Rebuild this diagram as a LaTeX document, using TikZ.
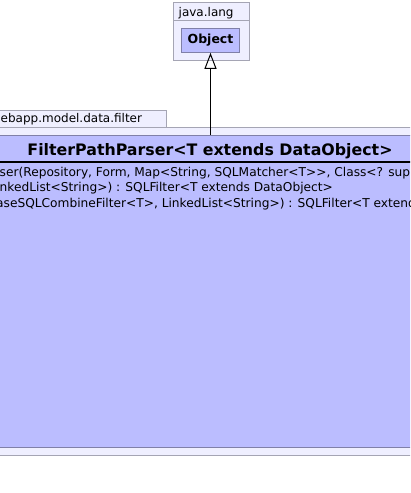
\documentclass[tikz,border=0pt]{standalone}
\usepackage{fontspec}
\setmainfont{DejaVu Sans}
\usepackage{tikz}
\usetikzlibrary{positioning, arrows.meta}
\definecolor{clsfill}{RGB}{187,189,255}
\definecolor{pkgfill}{RGB}{239,239,255}
\definecolor{pkgline}{RGB}{165,165,180}
\definecolor{clsline}{RGB}{128,128,168}

\begin{document}
\begin{tikzpicture}[
    x=1pt, y=-1pt,
    pkg/.style={draw=pkgline, fill=pkgfill, line width=1pt},
    cls/.style={rectangle, draw=clsline, fill=clsfill, line width=1pt, inner sep=0pt},
    pkgname/.style={font=\fontsize{12}{14}\selectfont, inner sep=0pt, anchor=base west},
    clsname/.style={font=\bfseries\fontsize{15.8}{19}\selectfont, inner sep=0pt, anchor=base},
    method/.style={font=\fontsize{12.2}{14}\selectfont, inner sep=0pt, anchor=base west},
    >=Triangle
    ]
\useasboundingbox (0,0) rectangle (410,493);
\clip (0,0) rectangle (410,493);
\fill[white] (0,0) rectangle (410,493);

% java.lang
\draw[pkg] (173.3,2.7) rectangle (249.3,60);
\draw[draw=pkgline, line width=1pt] (173.3,20) -- (249.3,20);
\node[pkgname] (lang) at (178.5,16.5) {java.lang};
\node[cls, minimum width=57.6pt, minimum height=24pt, font=\bfseries\fontsize{12.5}{14}\selectfont] (object) at (210.5,40.3) {Object};

% filter package
\draw[pkg] (-5,110) rectangle (166,127);
\draw[pkg] (-5,127) rectangle (415,455);
\node[pkgname] (filter) at (0.5,122.7) {ebapp.model.data.filter};

% class
\node[cls, minimum width=430pt, minimum height=312pt] (parser) at (210,291) {};
\draw[line width=2pt] (-5,162) -- (415,162);
\node[clsname] (title) at (210,155) {FilterPathParser<T extends DataObject>};
\node[method] (m1) at (-0.5,176) {ser(Repository, Form, Map<String, SQLMatcher<T>{}>, Class<? sup};
\node[method] (m2) at (-0.5,191.5) {nkedList<String>) : SQLFilter<T extends DataObject>};
\node[method] (m3) at (-4,207) {aseSQLCombineFilter<T>, LinkedList<String>) : SQLFilter<T extend};

% generalization
\draw[->, >={Triangle[open, length=16pt, width=12pt]}, line width=1pt] (object.south |- parser.north) -- (object.south);
\end{tikzpicture}
\end{document}
